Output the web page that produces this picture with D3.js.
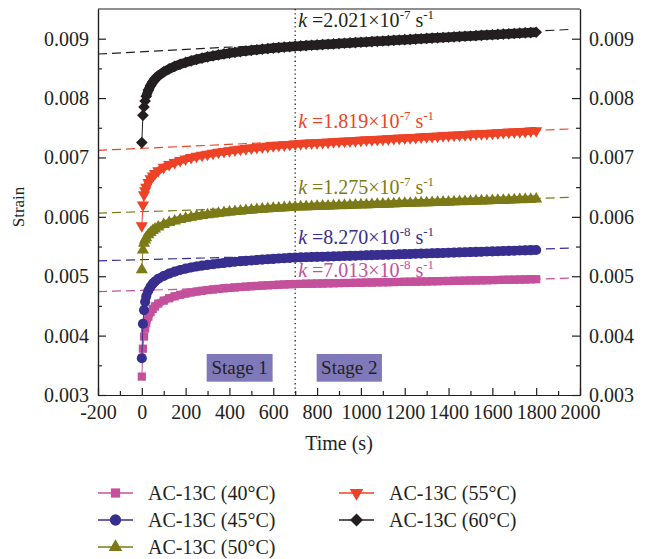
<!DOCTYPE html>
<html>
<head>
<meta charset="utf-8">
<script src="https://cdn.jsdelivr.net/npm/d3@7"></script>
<style>
  body { margin: 0; background: #fff; }
  svg text { font-family: "Liberation Serif", "Times New Roman", serif; }
</style>
</head>
<body>
<svg></svg>
<script>
// sampling times (s), shared by every series
var times = [0, 5, 10, 15, 20, 30, 40, 50, 60, 75,
  100, 125, 150, 175, 200, 225, 250, 275, 300, 325, 350, 375, 400, 425, 450, 475, 500, 525, 550, 575, 600, 625, 650, 675, 700,
  725, 750, 775, 800, 825, 850, 875, 900, 925, 950, 975, 1000, 1025, 1050, 1075, 1100, 1125, 1150, 1175, 1200,
  1225, 1250, 1275, 1300, 1325, 1350, 1375, 1400, 1425, 1450, 1475, 1500, 1525, 1550, 1575, 1600, 1625, 1650,
  1675, 1700, 1725, 1750, 1775, 1800];

var strain40 = [0.00331, 0.00378, 0.003985, 0.00412, 0.00421, 0.00432, 0.004395, 0.00445, 0.004492, 0.00454,
  0.00459, 0.00463, 0.004662, 0.004688, 0.004709, 0.004727, 0.004742, 0.004755, 0.004767, 0.004777, 0.004787, 0.004796, 0.004804,
  0.004812, 0.004819, 0.004825, 0.004831, 0.004837, 0.004842, 0.004847, 0.004852, 0.004857, 0.004861, 0.004865, 0.004869,
  0.004871, 0.004873, 0.004875, 0.004876, 0.004878, 0.00488, 0.004882, 0.004884, 0.004886, 0.004887, 0.004889, 0.004891,
  0.004893, 0.004895, 0.004897, 0.004898, 0.0049, 0.004902, 0.004904, 0.004906, 0.004908, 0.004909, 0.004911, 0.004913,
  0.004915, 0.004917, 0.004919, 0.00492, 0.004922, 0.004924, 0.004926, 0.004928, 0.00493, 0.004931, 0.004933, 0.004935,
  0.004937, 0.004939, 0.004941, 0.004942, 0.004944, 0.004946, 0.004948, 0.00495];

var strain45 = [0.00362, 0.0042, 0.00443, 0.00457, 0.00466, 0.00476, 0.004825, 0.004875, 0.004912, 0.004958,
  0.005005, 0.005045, 0.005078, 0.005105, 0.005128, 0.005147, 0.005163, 0.005178, 0.005191, 0.005203, 0.005214, 0.005224, 0.005234,
  0.005243, 0.005251, 0.005259, 0.005266, 0.005273, 0.00528, 0.005286, 0.005292, 0.005298, 0.005304, 0.005309, 0.005314,
  0.005317, 0.00532, 0.005323, 0.005326, 0.005329, 0.005331, 0.005334, 0.005337, 0.00534, 0.005343, 0.005346, 0.005349,
  0.005352, 0.005355, 0.005358, 0.00536, 0.005363, 0.005366, 0.005369, 0.005372, 0.005375, 0.005378, 0.005381, 0.005384,
  0.005387, 0.005389, 0.005392, 0.005395, 0.005398, 0.005401, 0.005404, 0.005407, 0.00541, 0.005413, 0.005416, 0.005418,
  0.005421, 0.005424, 0.005427, 0.00543, 0.005433, 0.005436, 0.005439, 0.005442];

var strain50 = [0.00511, 0.00544, 0.005555, 0.00561, 0.00565, 0.0057, 0.005738, 0.00577, 0.005797, 0.00583,
  0.00587, 0.005903, 0.005931, 0.005955, 0.005975, 0.005993, 0.006009, 0.006024, 0.006037, 0.006049, 0.00606, 0.006071, 0.006081,
  0.00609, 0.006099, 0.006107, 0.006115, 0.006123, 0.00613, 0.006137, 0.006143, 0.006149, 0.006155, 0.006161, 0.006166,
  0.006169, 0.006172, 0.006175, 0.006178, 0.006181, 0.006184, 0.006187, 0.00619, 0.006193, 0.006196, 0.006199, 0.006202,
  0.006205, 0.006208, 0.006211, 0.006214, 0.006217, 0.00622, 0.006224, 0.006227, 0.00623, 0.006233, 0.006236, 0.006239,
  0.006242, 0.006245, 0.006248, 0.006251, 0.006254, 0.006257, 0.00626, 0.006263, 0.006266, 0.006269, 0.006272, 0.006275,
  0.006278, 0.006281, 0.006285, 0.006288, 0.006291, 0.006294, 0.006297, 0.0063];

var strain55 = [0.00585, 0.0062, 0.00637, 0.00644, 0.0065, 0.00658, 0.00664, 0.006688, 0.006728, 0.006777,
  0.006835, 0.00688, 0.006917, 0.006948, 0.006975, 0.006999, 0.00702, 0.007039, 0.007056, 0.007072, 0.007087, 0.007101, 0.007114,
  0.007126, 0.007138, 0.007149, 0.007159, 0.007169, 0.007178, 0.007187, 0.007196, 0.007204, 0.007212, 0.00722, 0.007228,
  0.007233, 0.007238, 0.007243, 0.007248, 0.007253, 0.007258, 0.007263, 0.007268, 0.007273, 0.007278, 0.007283, 0.007288,
  0.007293, 0.007298, 0.007303, 0.007308, 0.007313, 0.007318, 0.007323, 0.007328, 0.007333, 0.007338, 0.007343, 0.007348,
  0.007354, 0.007359, 0.007364, 0.007369, 0.007374, 0.007379, 0.007384, 0.007389, 0.007394, 0.007399, 0.007404, 0.007409,
  0.007414, 0.007419, 0.007424, 0.007429, 0.007434, 0.007439, 0.007444, 0.00745];

var strain60 = [0.00725, 0.00771, 0.00785, 0.00795, 0.00803, 0.008135, 0.00821, 0.00827, 0.008318, 0.008375,
  0.00844, 0.008492, 0.008535, 0.00857, 0.0086, 0.008627, 0.008651, 0.008673, 0.008693, 0.008711, 0.008728, 0.008743, 0.008757,
  0.00877, 0.008782, 0.008793, 0.008804, 0.008814, 0.008824, 0.008833, 0.008842, 0.00885, 0.008858, 0.008865, 0.008872,
  0.008878, 0.008884, 0.00889, 0.008895, 0.008901, 0.008907, 0.008912, 0.008918, 0.008923, 0.008929, 0.008934, 0.00894,
  0.008945, 0.008951, 0.008956, 0.008961, 0.008967, 0.008972, 0.008978, 0.008983, 0.008988, 0.008994, 0.008999, 0.009004,
  0.00901, 0.009015, 0.00902, 0.009025, 0.009031, 0.009036, 0.009041, 0.009046, 0.009051, 0.009057, 0.009062, 0.009067,
  0.009072, 0.009077, 0.009082, 0.009088, 0.009093, 0.009098, 0.009103, 0.009108];

var seriesNames = ["AC-13C (40°C)", "AC-13C (45°C)", "AC-13C (50°C)", "AC-13C (55°C)", "AC-13C (60°C)"];
var seriesValues = [strain40, strain45, strain50, strain55, strain60];

// linear fits (stage 2), end points
var fitTimes = [-200, 1950];
var fitStart = [0.004741, 0.005259, 0.006062, 0.00712, 0.008742];
var fitEnd = [0.004967, 0.005472, 0.006328, 0.00748, 0.009155];
var kValue = ["7.013", "8.270", "1.275", "1.819", "2.021"];
var kExp = ["-8", "-8", "-7", "-7", "-7"];
var kLabelStrain = [0.004989, 0.005545, 0.006388, 0.0075, 0.0092025];

var stageLine = 700;
var stages = [{name: "Stage 1", from: 296, to: 597}, {name: "Stage 2", from: 798, to: 1096}];
var stageStrain = [0.003224, 0.003691];

var xTicks = [-200, 0, 200, 400, 600, 800, 1000, 1200, 1400, 1600, 1800, 2000];
var xMinor = [-100, 100, 300, 500, 700, 900, 1100, 1300, 1500, 1700, 1900];
var yTicks = [0.003, 0.004, 0.005, 0.006, 0.007, 0.008, 0.009];
var yMinor = [0.0035, 0.0045, 0.0055, 0.0065, 0.0075, 0.0085];

var colors = ["#c4509c", "#372e8f", "#7b7a17", "#ee4227", "#231f20"];
var ink = "#231f20";

// marker shape per series; band = width of the dense marker run
var shapes = [
  {type: d3.symbolSquare, size: 68, rot: 0, band: 8},
  {type: d3.symbolCircle, size: 80, rot: 0, band: 9},
  {type: d3.symbolTriangle, size: 64, rot: 0, band: 7.5},
  {type: d3.symbolTriangle, size: 64, rot: 180, band: 7.5},
  {type: d3.symbolSquare, size: 68, rot: 45, band: 9.5}
];

var svg = d3.select("svg")
    .attr("width", 648)
    .attr("height", 559);

svg.append("rect").attr("width", 648).attr("height", 559).attr("fill", "#fff");

var x = d3.scaleLinear().domain([-200, 2000]).range([98, 580]);
var y = d3.scaleLinear().domain([0.003, 0.0095]).range([395, 9]);

function styleAxis(g, size) {
    g.attr("font-family", null).attr("font-size", null);
    g.selectAll("path, line").attr("stroke", ink).attr("stroke-width", 1.2);
    g.selectAll("text").attr("fill", ink).style("font-size", size + "px");
}

// fit lines go under the data
var fits = svg.append("g");
seriesValues.forEach(function (vals, i) {
    fits.append("line")
        .attr("x1", x(fitTimes[0])).attr("y1", y(fitStart[i]))
        .attr("x2", x(fitTimes[1])).attr("y2", y(fitEnd[i]))
        .attr("stroke", colors[i])
        .attr("stroke-width", 1.2)
        .attr("stroke-dasharray", "9,5");
});

// stage divider
svg.append("line")
    .attr("x1", x(stageLine)).attr("x2", x(stageLine))
    .attr("y1", y(0.0095)).attr("y2", y(0.003))
    .attr("stroke", ink)
    .attr("stroke-width", 1.3)
    .attr("stroke-dasharray", "1.3,3");

// the series
var line = d3.line().x(function (d) { return x(d.t); }).y(function (d) { return y(d.v); });

seriesValues.forEach(function (vals, i) {
    var pts = times.map(function (t, j) { return {t: t, v: vals[j]}; })
        .filter(function (d) { return d.v !== undefined; });
    var g = svg.append("g");
    g.append("path")
        .datum(pts)
        .attr("d", line)
        .attr("fill", "none")
        .attr("stroke", colors[i])
        .attr("stroke-width", 1);
    // where markers crowd together they merge into a solid band
    g.append("path")
        .datum(pts.filter(function (d) { return d.t >= 20; }))
        .attr("d", line)
        .attr("fill", "none")
        .attr("stroke", colors[i])
        .attr("stroke-width", shapes[i].band);
    g.selectAll("path.pt")
        .data(pts)
        .enter()
        .append("path")
        .attr("class", "pt")
        .attr("d", d3.symbol().type(shapes[i].type).size(shapes[i].size))
        .attr("transform", function (d) {
            return "translate(" + x(d.t) + "," + y(d.v) + ") rotate(" + shapes[i].rot + ")";
        })
        .attr("fill", colors[i]);
});

// k labels
seriesValues.forEach(function (vals, i) {
    var t = svg.append("text")
        .attr("x", x(stageLine) + 3)
        .attr("y", y(kLabelStrain[i]))
        .attr("fill", colors[i])
        .style("font-size", "20px")
        .style("white-space", "pre");
    t.append("tspan").style("font-style", "italic").text("k");
    t.append("tspan").text(" =" + kValue[i] + "×10");
    t.append("tspan").attr("dy", -8).style("font-size", "13px").text(kExp[i]);
    t.append("tspan").attr("dy", 8).text(" s");
    t.append("tspan").attr("dy", -8).style("font-size", "13px").text("-1");
});

// stage boxes
stages.forEach(function (s) {
    svg.append("rect")
        .attr("x", x(s.from))
        .attr("y", y(stageStrain[1]))
        .attr("width", x(s.to) - x(s.from))
        .attr("height", y(stageStrain[0]) - y(stageStrain[1]))
        .attr("fill", "#8079b9");
    svg.append("text")
        .attr("x", (x(s.from) + x(s.to)) / 2)
        .attr("y", (y(stageStrain[0]) + y(stageStrain[1])) / 2)
        .attr("dy", "0.35em")
        .attr("text-anchor", "middle")
        .attr("fill", ink)
        .style("font-size", "19px")
        .text(s.name);
});

// axes
var plain = function (d) { return String(d); };
var gx = svg.append("g").attr("transform", "translate(0,395)")
    .call(d3.axisBottom(x).tickValues(xTicks).tickSize(-7).tickSizeOuter(0).tickPadding(10).tickFormat(plain));
styleAxis(gx, 20);
var gxm = svg.append("g").attr("transform", "translate(0,395)")
    .call(d3.axisBottom(x).tickValues(xMinor).tickSize(-4).tickSizeOuter(0).tickFormat(""));
styleAxis(gxm, 20);

var gy = svg.append("g").attr("transform", "translate(98,0)")
    .call(d3.axisLeft(y).tickValues(yTicks).tickSize(-8).tickSizeOuter(0).tickPadding(9).tickFormat(d3.format(".3f")));
styleAxis(gy, 20);
var gym = svg.append("g").attr("transform", "translate(98,0)")
    .call(d3.axisLeft(y).tickValues(yMinor).tickSize(-4).tickSizeOuter(0).tickFormat(""));
styleAxis(gym, 20);

var gr = svg.append("g").attr("transform", "translate(580,0)")
    .call(d3.axisRight(y).tickValues(yTicks).tickSize(-8).tickSizeOuter(0).tickPadding(9).tickFormat(d3.format(".3f")));
styleAxis(gr, 20);
var grm = svg.append("g").attr("transform", "translate(580,0)")
    .call(d3.axisRight(y).tickValues(yMinor).tickSize(-4).tickSizeOuter(0).tickFormat(""));
styleAxis(grm, 20);

svg.append("line")
    .attr("x1", x(-200)).attr("x2", x(2000))
    .attr("y1", y(0.0095)).attr("y2", y(0.0095))
    .attr("stroke", ink).attr("stroke-width", 1.2);

// axis titles
svg.append("text")
    .attr("x", (x(-200) + x(2000)) / 2)
    .attr("y", 450)
    .attr("text-anchor", "middle")
    .attr("fill", ink)
    .style("font-size", "20px")
    .text("Time (s)");

svg.append("text")
    .attr("transform", "translate(24,207) rotate(-90)")
    .attr("text-anchor", "middle")
    .attr("fill", ink)
    .style("font-size", "17px")
    .text("Strain");

// legend, two columns
var legend = svg.append("g");
seriesNames.forEach(function (name, i) {
    var col = i < 3 ? 0 : 1;
    var row = i < 3 ? i : i - 3;
    var lx = col === 0 ? 98 : 339;
    var ly = 493 + row * 27;
    legend.append("line")
        .attr("x1", lx).attr("x2", lx + 35)
        .attr("y1", ly).attr("y2", ly)
        .attr("stroke", colors[i])
        .attr("stroke-width", 1.4);
    legend.append("path")
        .attr("d", d3.symbol().type(shapes[i].type).size(shapes[i].size * 1.25))
        .attr("transform", "translate(" + (lx + 17.5) + "," + ly + ") rotate(" + shapes[i].rot + ")")
        .attr("fill", colors[i]);
    legend.append("text")
        .attr("x", lx + 50)
        .attr("y", ly)
        .attr("dy", "0.35em")
        .attr("fill", ink)
        .style("font-size", "20px")
        .text(name);
});
</script>
</body>
</html>
